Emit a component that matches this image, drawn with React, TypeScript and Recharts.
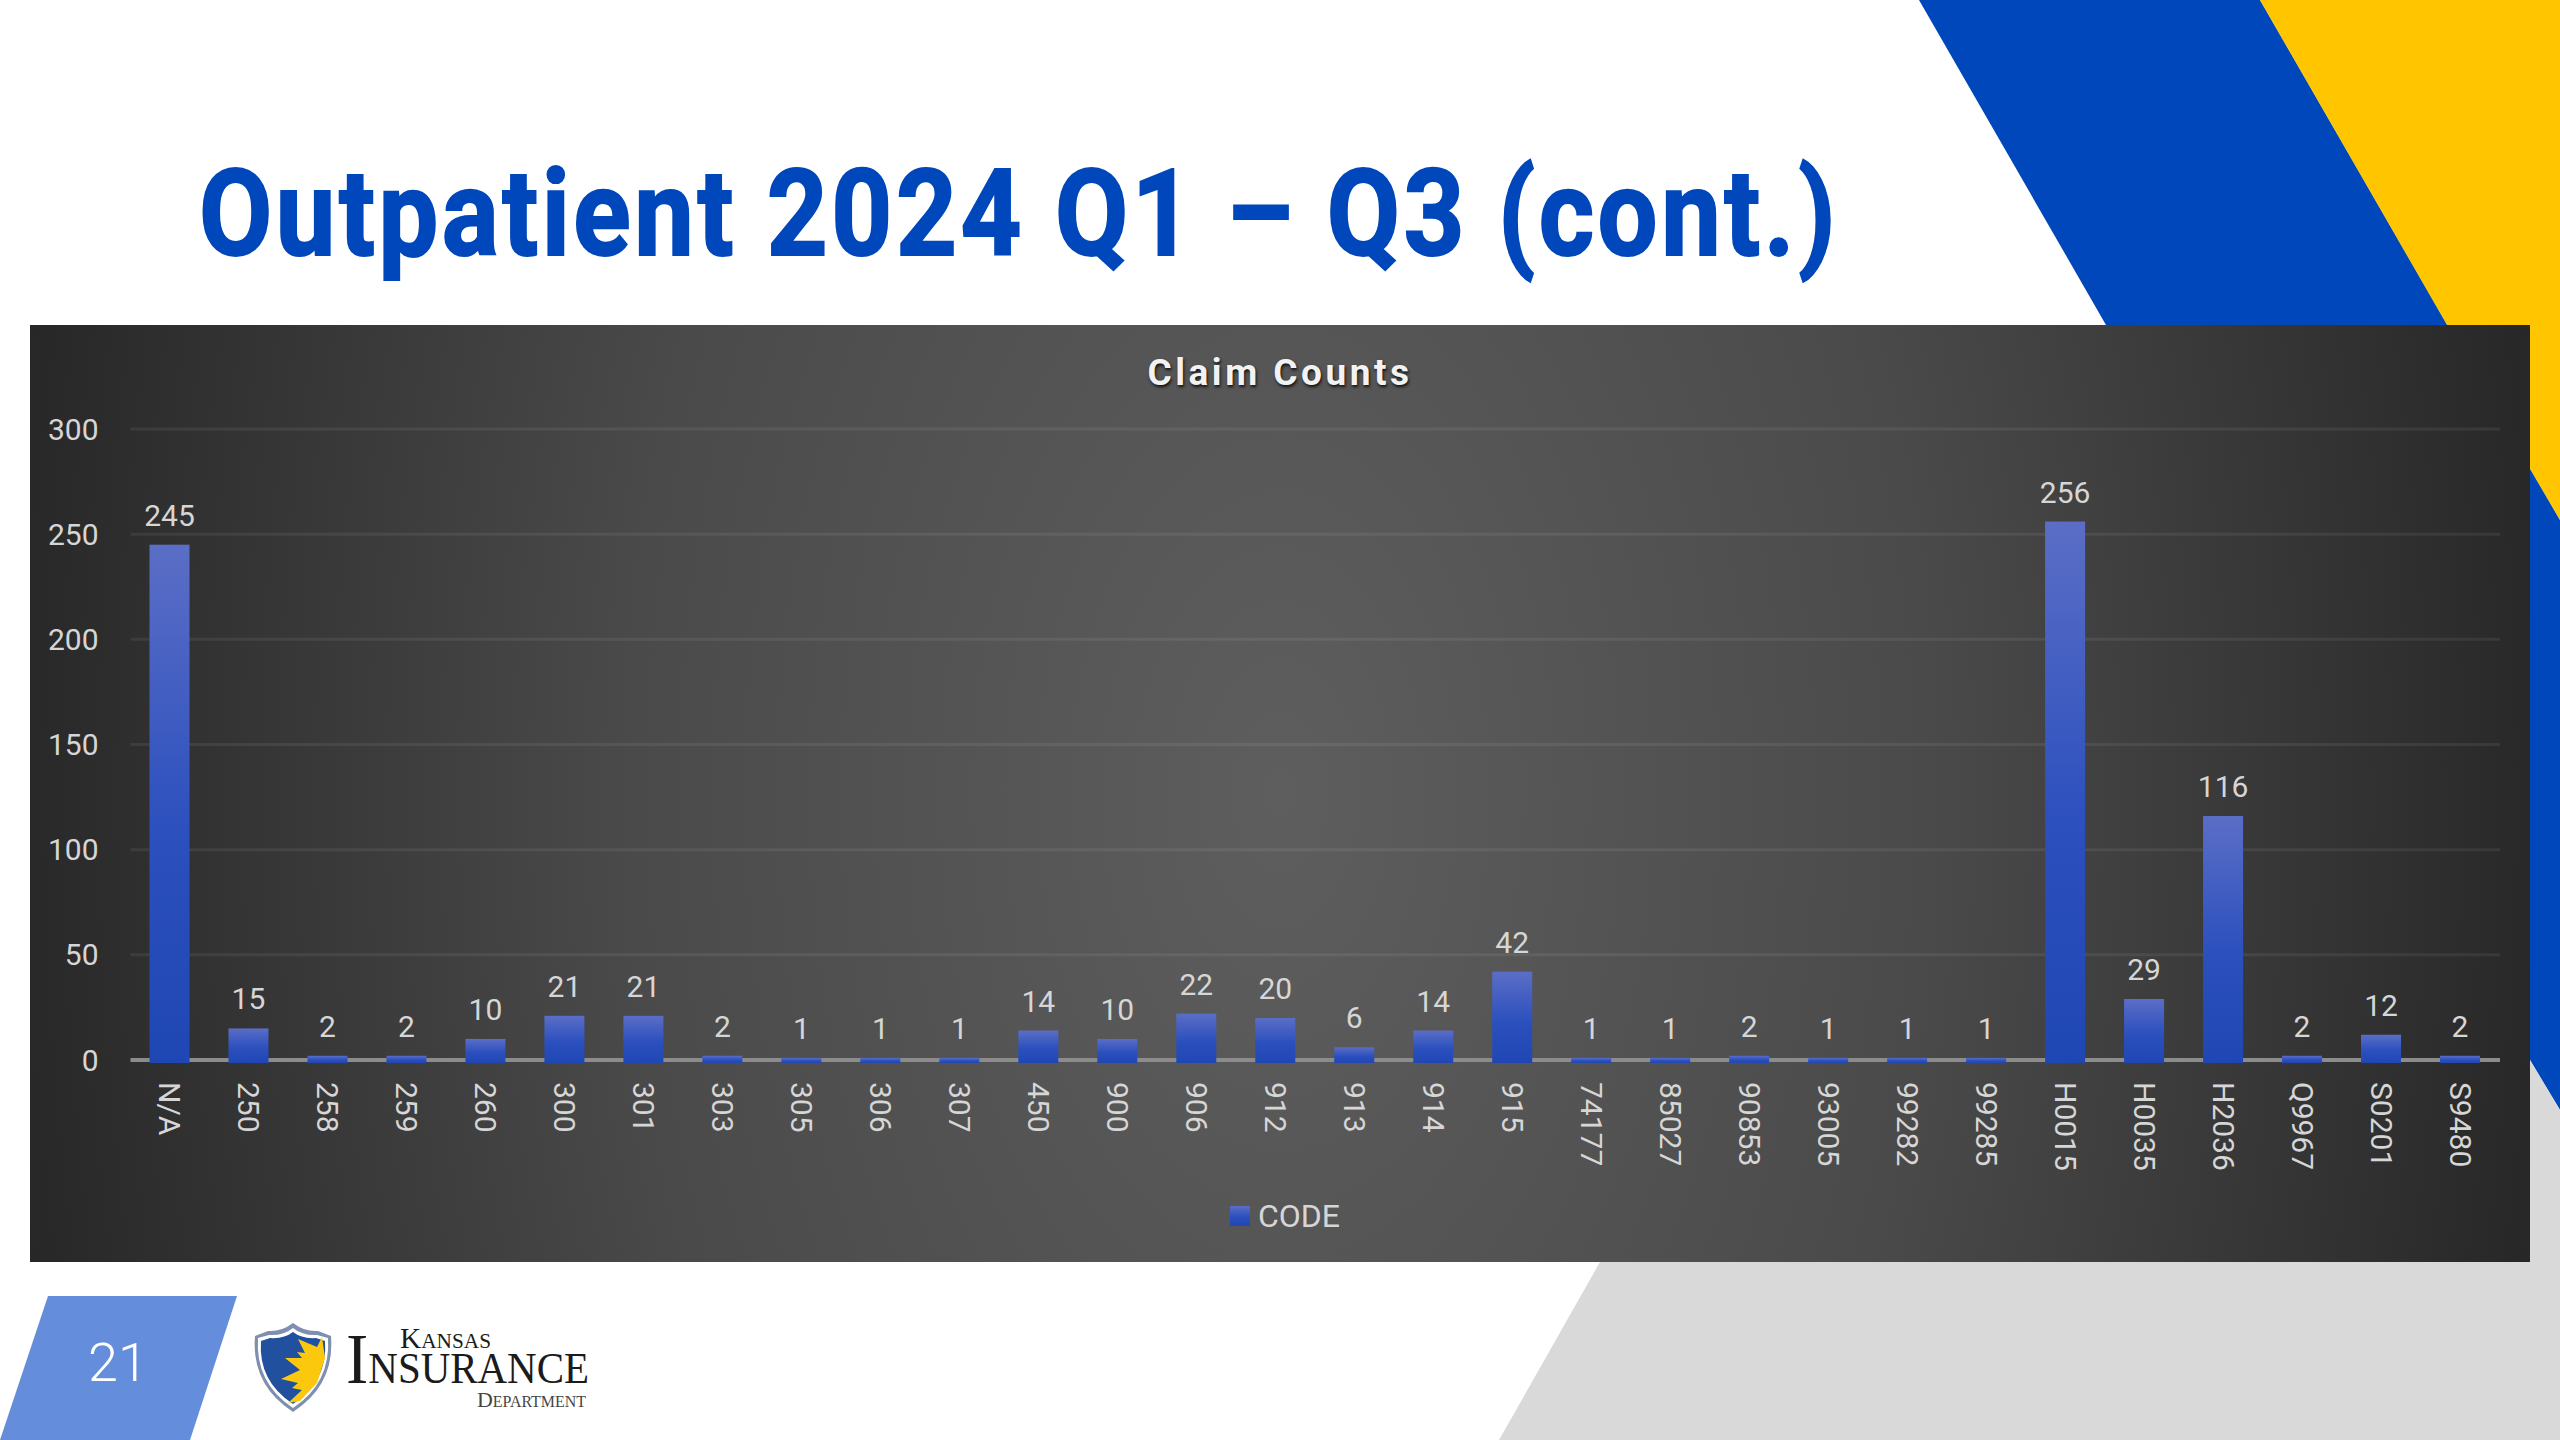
import {
  BarChart,
  Bar,
  XAxis,
  YAxis,
  CartesianGrid,
  Legend,
  LabelList,
} from 'recharts'

const CODES = [
  'N/A', '250', '258', '259', '260', '300', '301', '303', '305', '306',
  '307', '450', '900', '906', '912', '913', '914', '915', '74177', '85027',
  '90853', '93005', '99282', '99285', 'H0015', 'H0035', 'H2036', 'Q9967', 'S0201', 'S9480',
]
const CLAIMS = [
  245, 15, 2, 2, 10, 21, 21, 2, 1, 1,
  1, 14, 10, 22, 20, 6, 14, 42, 1, 1,
  2, 1, 1, 1, 256, 29, 116, 2, 12, 2,
]
const Y_TICKS = [0, 50, 100, 150, 200, 250, 300]

const chartData = CODES.map((code, i) => ({ code, claims: CLAIMS[i] }))

const FONT = 'Roboto, sans-serif'
const LABEL = '#d6d6d6'

// x labels read top to bottom, so the tick is rotated by hand
function CodeTick({ x, y, payload }: any) {
  return (
    <text
      x={x}
      y={y}
      transform={`rotate(90 ${x} ${y})`}
      fill={LABEL}
      fontFamily={FONT}
      fontSize={30}
      textAnchor='start'
      dominantBaseline='central'
    >
      {payload.value}
    </text>
  )
}

// the zero line sits behind the bars, so it is drawn with the grid
function GridLine({ x1, x2, y1, y2 }: any) {
  const isBase = y1 > 700
  return (
    <line
      x1={x1}
      x2={x2}
      y1={y1}
      y2={y2}
      stroke={isBase ? '#8c8c8c' : '#ffffff'}
      strokeOpacity={isBase ? 1 : 0.07}
      strokeWidth={isBase ? 4 : 3}
    />
  )
}

// bars run slightly past the baseline, over the axis line
function ClaimBar({ x, y, width, height }: any) {
  return <rect x={x} y={y} width={width} height={height + 3} fill='url(#barFill)' />
}

function Slide() {
  return (
    <svg
      width={2560}
      height={1440}
      style={{ position: 'absolute', left: 0, top: 0 }}
    >
      <polygon points='1919,0 2260,0 2560,520 2560,1110 2530,1060 2106,325' fill='#0047BB' />
      <polygon points='2260,0 2560,0 2560,520 2530,469 2447,325' fill='#FFC600' />
      <polygon points='1600,1262 2530,1262 2530,1060 2560,1110 2560,1440 1499,1440' fill='#D9D9D9' />
      <text
        x={199}
        y={255}
        textLength={1640}
        lengthAdjust='spacingAndGlyphs'
        fontFamily={FONT}
        fontWeight={700}
        fontSize={120}
        letterSpacing={4}
        stroke='#0047BB'
        strokeWidth={2}
        fill='#0047BB'
      >
        Outpatient 2024 Q1 – Q3 (cont.)
      </text>

      <polygon points='48,1296 237,1296 190,1440 0,1440' fill='#648EDB' />
      <text
        x={118}
        y={1381}
        textAnchor='middle'
        fontFamily={FONT}
        fontWeight={300}
        fontSize={54}
        fill='#ffffff'
      >
        21
      </text>

      <path
        d='M255 1336 L268 1331 Q281 1332 293 1323 Q305 1332 318 1331 L331 1336 Q335 1385 293 1412 Q251 1385 255 1336 Z'
        fill='#7f8fb0'
      />
      <path
        d='M258 1338 L269 1335 Q283 1336 293 1328 Q303 1336 317 1335 L328 1338 Q331 1383 293 1408 Q255 1383 258 1338 Z'
        fill='#ffffff'
      />
      <path
        d='M261 1341 L270 1338 Q284 1339 293 1332 Q302 1339 316 1338 L325 1341 Q328 1381 293 1404 Q258 1381 261 1341 Z'
        fill='#21509F'
      />
      <path
        d='M322 1337 L317 1347 L298 1339 L305 1353 L297 1352 L302 1358 L285 1358 L300 1370 L281 1379 L298 1383 L292 1388 L302 1390 L288 1403 L300 1401 L317 1383 L325 1358 Z'
        fill='#FBC80E'
      />
      <g fontFamily='"Liberation Serif", serif' fill='#1b1b1b'>
        <text x={400} y={1348} textLength={91} lengthAdjust='spacingAndGlyphs'>
          <tspan fontSize={29}>K</tspan>
          <tspan fontSize={21}>ANSAS</tspan>
        </text>
        <text x={346} y={1383} textLength={243} lengthAdjust='spacingAndGlyphs'>
          <tspan fontSize={72}>I</tspan>
          <tspan fontSize={44}>NSURANCE</tspan>
        </text>
        <text x={477} y={1407} textLength={109} lengthAdjust='spacingAndGlyphs' fill='#444444'>
          <tspan fontSize={22}>D</tspan>
          <tspan fontSize={16}>EPARTMENT</tspan>
        </text>
      </g>
    </svg>
  )
}

export default function App() {
  return (
    <div
      style={{
        position: 'absolute',
        left: 0,
        top: 0,
        width: 2560,
        height: 1440,
        background: '#ffffff',
        overflow: 'hidden',
      }}
    >
      <Slide />
      <div
        style={{
          position: 'absolute',
          left: 30,
          top: 325,
          width: 2500,
          height: 937,
          background:
            'radial-gradient(ellipse 1300px 2200px at center, #5e5e5e 0%, #4a4a4a 50%, #262626 100%)',
        }}
      >
        <div
          style={{
            position: 'absolute',
            left: 0,
            right: 0,
            top: 26,
            textAlign: 'center',
            color: '#f2f2f2',
            fontFamily: FONT,
            fontWeight: 700,
            fontSize: 37,
            letterSpacing: 3.5,
            textShadow: '1px 2px 3px #111',
          }}
        >
          Claim Counts
        </div>
        <BarChart
          width={2500}
          height={937}
          data={chartData}
          barSize={40}
          margin={{ top: 104, right: 30, bottom: 0, left: 0 }}
          style={{ position: 'absolute', left: 0, top: 0 }}
        >
          <defs>
            <linearGradient id='barFill' x1='0' y1='0' x2='0' y2='1'>
              <stop offset='0%' stopColor='#5B6EC6' />
              <stop offset='55%' stopColor='#2C50BE' />
              <stop offset='100%' stopColor='#1F47B4' />
            </linearGradient>
          </defs>
          <CartesianGrid vertical={false} horizontal={<GridLine />} />
          <XAxis
            dataKey='code'
            interval={0}
            height={137}
            tickLine={false}
            tickSize={0}
            tickMargin={22}
            axisLine={false}
            tick={<CodeTick />}
          />
          <YAxis
            domain={[0, 300]}
            ticks={Y_TICKS}
            width={100.5}
            axisLine={false}
            tickLine={false}
            tickSize={0}
            tickMargin={32}
            tick={{ fill: LABEL, fontFamily: FONT, fontSize: 30 }}
          />
          <Legend
            iconType='square'
            iconSize={20}
            verticalAlign='bottom'
            formatter={(value) => (
              <span
                style={{
                  color: LABEL,
                  fontFamily: FONT,
                  fontSize: 32,
                  marginLeft: 4,
                  verticalAlign: 'middle',
                }}
              >
                {value}
              </span>
            )}
            wrapperStyle={{ paddingBottom: 27, paddingLeft: 25 }}
          />
          <Bar
            dataKey='claims'
            name='CODE'
            fill='url(#barFill)'
            shape={<ClaimBar />}
            isAnimationActive={false}
          >
            <LabelList
              dataKey='claims'
              position='top'
              offset={19}
              fill={LABEL}
              fontFamily={FONT}
              fontSize={30}
            />
          </Bar>
        </BarChart>
      </div>
    </div>
  )
}
